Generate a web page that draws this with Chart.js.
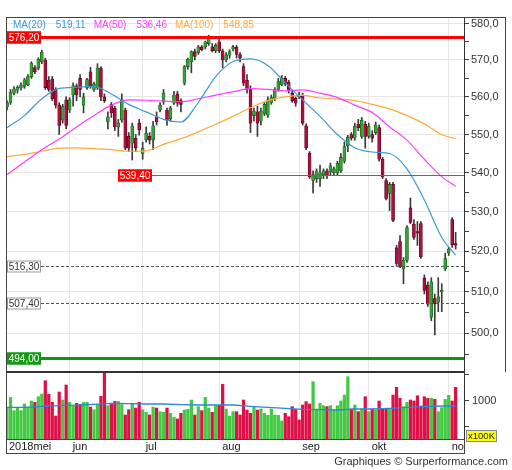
<!DOCTYPE html>
<html>
<head>
<meta charset="utf-8">
<script src="https://cdn.jsdelivr.net/npm/chart.js@4.4.1/dist/chart.umd.min.js"></script>
<style>
  html, body { margin: 0; padding: 0; background: #fff; }
  canvas { display: block; }
</style>
</head>
<body>
<canvas id="koers" width="512" height="470"></canvas>
<script>
// dagkoersen (mei - begin nov 2018), een waarde per handelsdag
const opens = [557.3,558.5,561,561.8,562.4,562.8,563.3,565.4,567.9,567.8,569.5,570,564.5,564.8,562,557.8,553.8,559.2,556.5,560.5,
  563,565,557.8,562.5,566.8,562,562.4,567.8,560,553.3,558,557,552,553.8,556.5,549.5,547.7,549,553,545,
  548.6,549.5,548.6,554.7,556.5,558.7,556.5,554.2,558.3,560.8,559,563.7,568.2,569.5,572.3,572,573.6,573.6,574.5,573.6,
  572.5,575,572.5,570,571.3,573,573.5,571.5,568.2,564.5,562,555,556,553.5,555.5,555.1,558.5,559.5,562,563.2,
  565,564,561,559.6,560.5,560.5,552.3,545.1,538,538.5,538.5,539.5,540.5,540.2,540,540,540.5,543,547,550,
  549,552.7,549.5,552.7,549.5,550,550.5,551.8,543.5,538,534.7,537,520.9,522.5,515.7,517.8,531,526.9,525,527,
  513.4,511.7,503.9,508.4,507.5,510,515.7,519.6,528,522];
const highs = [559,562,562.8,563,563.8,565,566,569.5,568.5,570.6,572.7,570.5,565.5,565.5,562.5,558.5,558,560,559.8,563.8,
  563.5,566,561,565,568,564,569,568.2,560.8,556,558.5,557.5,554,560.8,557,550.5,553,550,554,548,
  552,550.5,553.5,556,558.5,562,557,557.5,561.5,561.5,559.5,568.5,570.5,572.5,573,574,574,575.2,576.8,574.5,
  574.5,575.7,573,572,572.8,574,574,572,569,566,563,557,557.5,557,558.5,560,560.5,562.5,565,565.8,
  565.5,564.5,561.5,560,561.2,561,552.8,545.5,540.5,541,542,541,541,542.5,541.5,543,545,548,549.8,550.5,
  553,554,554.5,553.5,553,551,553.3,552.5,544,538.5,537.5,537.5,521.5,524,518.5,526.5,533.5,528,527.5,527.5,
  514.2,512.5,513.5,509.5,513.5,512,519.6,521,528.5,524.8];
const lows = [556.5,558,560.5,561,561.8,562.3,563,565,566.3,567.3,569,562,561.5,559,557,550,553,551.5,555.8,557.5,
  559,560,555.7,562,562.3,561.5,562,559,558.5,551.5,554.5,551,549.5,553.2,546,545.5,543.3,545.5,549.8,543.5,
  548,547.5,546,552.5,556,558,552.4,553.5,558,557.5,556,563.2,567.5,566.5,570,571.5,572.5,573,574,572.2,
  572,572,567.8,569.5,570.5,572.5,570.5,569.5,563,561,550.5,553.5,549.5,552.5,555,554.5,558,559,561.5,563,
  563,561,558.5,557.5,559.5,552.5,546,538.5,534.8,537.5,536.5,538.5,538.5,539.5,539.5,539.5,540,542.5,545.5,548.5,
  548.5,551,549,546.4,549,548,550,543,538.5,533,530.3,527.5,516.5,516,512,517.3,527,523,521.5,518.3,
  509.5,506.5,503,499.6,505.2,505.2,515.2,519,521,520.6];
const closes = [558.5,561.3,562.2,562.6,563.2,564.6,565.5,569.1,566.8,570.2,572.1,562.5,562,559.5,557.8,552.4,557.4,552.4,559.2,563,
  560.5,562,560,564.7,562.8,563.5,567.8,560,559,554.7,555.7,552,553,559.2,546.4,546.4,552.3,546.5,551.2,546.4,
  550.4,548.5,552.3,553.3,557.8,561,553.8,557,560.5,558.3,558,568.2,570.2,572.3,571,573.6,572.8,575,576.1,572.5,
  574,572.5,570,571.4,572.3,573.6,571.5,570.5,563.7,562,553,556.2,553,556.2,558,559.2,559.8,562,564.1,565,
  563.5,561.8,559,558.3,560,553,546.5,538.9,539.5,540.5,540,540.5,539.2,541.8,541,542.5,544,546.8,549.3,549,
  552.2,551.8,553.8,549.5,552.2,549,552.5,543.5,538.9,533.4,537,527.8,517,516.2,517.8,526,527.3,523.5,524.6,518.7,
  510.4,507,512.5,507.1,508.8,510.4,518.2,520.6,521.7,521.6];
// volume in eenheden van 100K
const volumes = [872,1064,808,872,808,936,872,994,968,1077,1128,1385,1122,968,705,1167,1013,1302,968,904,
  949,930,968,968,878,827,930,1084,1558,904,949,987,987,923,725,827,942,859,968,827,
  776,725,878,859,789,776,859,757,680,648,757,821,834,1013,725,885,808,1064,859,776,
  904,910,1314,840,705,789,789,725,1013,821,757,885,821,840,757,718,840,725,718,609,
  757,692,885,834,629,917,981,936,1366,840,949,904,885,904,821,904,994,1109,1462,840,
  917,789,840,1077,789,840,821,994,840,840,853,1109,1257,1045,885,968,1013,994,1096,898,
  1077,1045,1045,1026,789,866,1026,1103,994,1257];

const maDays = [0,5,10,15,20,25,30,35,40,45,50,55,60,65,70,75,80,85,90,95,100,105,110,115,120,125,129];
const ma20 = [551.8,555,559.5,562.3,562.6,562.8,560.8,558,556,554,553.3,558.5,565.5,569.6,570.3,568.5,563.8,559.2,554.8,550,546.5,545.4,545,541,533,523.5,519.11];
const ma50 = [539.5,542.8,546,548.8,552,555,557.8,559.2,559.1,558.9,558.7,559.5,560.5,561.4,562.2,562,561.6,561.9,561,559.8,557.8,555.8,552,548.5,543.5,539,536.46];
const ma100 = [544.2,544.8,545.6,546.4,546.5,546.3,546,545.6,545.7,547.4,548.9,550.7,552.7,554.8,557.1,559,560,560.4,559.7,559.4,559,558,556.8,555,552.8,550,548.85];
const volMa = [872,872,890,904,915,930,949,945,936,936,925,917,917,917,890,872,853,834,830,821,840,840,853,872,885,898,898];

const monthStarts = [-0.3, 18, 39, 61, 84, 104, 127];
const monthNames = ['2018mei', 'jun', 'jul', 'aug', 'sep', 'okt', 'no'];
const priceTicks = [495,500,505,510,515,520,525,530,535,540,545,550,555,560,565,570,575,580];
const volTicks = [500, 1000, 1500];
const levels = [576.2, 539.4, 516.3, 507.4, 494.0];

const GREEN = '#32a532', RED = '#b0103c';
const VGREEN = '#44c944', VRED = '#de1048';
const fmt = (v, d) => v.toFixed(d).replace('.', ',');

const days = closes.map((c, i) => i);
const up = days.map(i => closes[i] >= opens[i]);

Chart.defaults.font.family = '"Liberation Sans", Arial, sans-serif';

const levelStyle = [
  { line: '#ff0000', width: 3, dash: [], bg: '#ff0000', fg: '#fff', edge: '#ff0000', labelAt: 0, lineFrom: 0 },
  { line: '#ff2a2a', width: 1.2, dash: [], bg: '#ff0000', fg: '#fff', edge: '#ff0000', labelAt: 111, lineFrom: 146 },
  { line: '#555', width: 1, dash: [3, 2], bg: '#fff', fg: '#333', edge: '#999', labelAt: 0, lineFrom: 35 },
  { line: '#555', width: 1, dash: [3, 2], bg: '#fff', fg: '#333', edge: '#999', labelAt: 0, lineFrom: 35 },
  { line: '#129612', width: 3, dash: [], bg: '#139913', fg: '#fff', edge: '#139913', labelAt: 0, lineFrom: 0 }
];

const levelPlugin = {
  id: 'levels',
  afterDatasetsDraw(chart) {
    const { ctx, chartArea: a, scales: { y } } = chart;
    ctx.save();
    levels.forEach((v, k) => {
      const s = levelStyle[k];
      const py = Math.round(y.getPixelForValue(v)) + 0.5;
      ctx.strokeStyle = s.line;
      ctx.lineWidth = s.width;
      ctx.setLineDash(s.dash);
      ctx.beginPath();
      ctx.moveTo(a.left + s.lineFrom, py);
      ctx.lineTo(a.right, py);
      ctx.stroke();
      ctx.setLineDash([]);
      const bx = a.left + 1 + s.labelAt, bw = 34, bh = 12;
      ctx.fillStyle = s.bg;
      ctx.fillRect(bx, py - 6, bw, bh);
      ctx.strokeStyle = s.edge;
      ctx.lineWidth = 1;
      ctx.strokeRect(bx + 0.5, py - 5.5, bw - 1, bh - 1);
      ctx.fillStyle = s.fg;
      ctx.font = '10px "Liberation Sans", Arial, sans-serif';
      ctx.textAlign = 'center';
      ctx.textBaseline = 'middle';
      ctx.fillText(fmt(v, 2), bx + bw / 2, py + 0.5);
    });
    ctx.restore();
  }
};

const framePlugin = {
  id: 'frame',
  afterDraw(chart) {
    const { ctx, chartArea: a, scales: { x, y, yv } } = chart;
    ctx.save();
    ctx.strokeStyle = '#444';
    ctx.lineWidth = 1;
    ctx.beginPath();
    ctx.moveTo(a.left, a.top + 0.5); ctx.lineTo(506, a.top + 0.5);
    ctx.moveTo(505.5, a.top); ctx.lineTo(505.5, y.bottom);
    ctx.moveTo(a.left + 0.5, a.top); ctx.lineTo(a.left + 0.5, a.bottom + 14);
    ctx.moveTo(a.left, a.bottom + 0.5); ctx.lineTo(a.right, a.bottom + 0.5);
    ctx.moveTo(a.left, a.bottom + 14.5); ctx.lineTo(a.right, a.bottom + 14.5);
    ctx.moveTo(a.right + 0.5, a.bottom); ctx.lineTo(a.right + 0.5, a.bottom + 15);
    ctx.stroke();
    ctx.lineWidth = 2;
    ctx.strokeStyle = '#333';
    ctx.beginPath();
    ctx.moveTo(a.left, y.bottom); ctx.lineTo(a.right, y.bottom);
    ctx.stroke();

    // maandnamen rechts van de maandlijn
    ctx.fillStyle = '#222';
    ctx.font = '11px "Liberation Sans", Arial, sans-serif';
    ctx.textAlign = 'left';
    ctx.textBaseline = 'top';
    monthStarts.forEach((m, k) => {
      ctx.fillText(monthNames[k], x.getPixelForValue(m) + 3, a.bottom + 2);
    });

    // legende MA
    const legend = [
      ['MA(20)', '#3a9ad9'], [fmt(ma20[ma20.length - 1], 2), '#3a9ad9'],
      ['MA(50)', '#ff3cff'], [fmt(ma50[ma50.length - 1], 2), '#ff3cff'],
      ['MA(100)', '#ffaa3c'], [fmt(ma100[ma100.length - 1], 2), '#ffaa3c']
    ];
    ctx.font = '10px "Liberation Sans", Arial, sans-serif';
    ctx.textBaseline = 'middle';
    let lx = a.left + 7;
    legend.forEach(([t, c], k) => {
      ctx.fillStyle = c;
      ctx.fillText(t, lx, a.top + 8);
      lx += ctx.measureText(t).width + (k % 2 === 0 ? 10 : 8);
    });

    // eenheid volume
    ctx.fillStyle = '#ffff00';
    ctx.fillRect(yv.left + 2, yv.bottom - 9, 31, 12);
    ctx.strokeStyle = '#888';
    ctx.lineWidth = 1;
    ctx.strokeRect(yv.left + 2.5, yv.bottom - 8.5, 30, 11);
    ctx.fillStyle = '#222';
    ctx.font = '9.5px "Liberation Sans", Arial, sans-serif';
    ctx.textAlign = 'center';
    ctx.fillText('x100K', yv.left + 17.5, yv.bottom - 2.5);

    ctx.fillStyle = '#333';
    ctx.font = '11px "Liberation Sans", Arial, sans-serif';
    ctx.textAlign = 'right';
    ctx.fillText('Graphiques \u00a9 Surperformance.com', 508, 462);
    ctx.restore();
  }
};

new Chart(document.getElementById('koers'), {
  type: 'bar',
  data: {
    datasets: [
      { type: 'line', yAxisID: 'y', data: maDays.map((d, k) => ({ x: d, y: ma20[k] })),
        borderColor: '#3a9ad9', borderWidth: 1.2, pointRadius: 0, cubicInterpolationMode: 'monotone' },
      { type: 'line', yAxisID: 'y', data: maDays.map((d, k) => ({ x: d, y: ma50[k] })),
        borderColor: '#ff3cff', borderWidth: 1.2, pointRadius: 0, cubicInterpolationMode: 'monotone' },
      { type: 'line', yAxisID: 'y', data: maDays.map((d, k) => ({ x: d, y: ma100[k] })),
        borderColor: '#ffaa3c', borderWidth: 1.2, pointRadius: 0, cubicInterpolationMode: 'monotone' },
      { type: 'line', yAxisID: 'yv', data: maDays.map((d, k) => ({ x: d, y: volMa[k] })),
        borderColor: '#2a88d8', borderWidth: 1.3, pointRadius: 0 },
      // bodies
      { yAxisID: 'y', grouped: false, barThickness: 3,
        data: days.map(i => ({ x: i, y: [opens[i], closes[i]] })),
        backgroundColor: days.map(i => up[i] ? GREEN : RED),
        borderColor: days.map(i => up[i] ? '#1b4d1b' : '#4a0018'),
        borderWidth: 0.6, borderSkipped: false },
      // lonten
      { yAxisID: 'y', grouped: false, barThickness: 1,
        data: days.map(i => ({ x: i, y: [lows[i], highs[i]] })),
        backgroundColor: '#3a3a3a' },
      // volume
      { yAxisID: 'yv', grouped: false, barThickness: 2.6,
        data: days.map(i => ({ x: i, y: volumes[i] })),
        backgroundColor: days.map(i => up[i] ? VGREEN : VRED) }
    ]
  },
  options: {
    responsive: false,
    animation: false,
    devicePixelRatio: 1,
    layout: { padding: { left: 6, top: 17, right: 0, bottom: 17 } },
    plugins: { legend: { display: false }, tooltip: { enabled: false } },
    scales: {
      x: {
        type: 'linear', position: 'bottom', min: -0.3, max: 131.4, offset: false,
        afterBuildTicks: s => { s.ticks = monthStarts.map(v => ({ value: v })); },
        afterFit: s => { s.height = 14; },
        ticks: { display: false },
        grid: { color: '#e6e6e6', drawTicks: false, offset: false },
        border: { display: false }
      },
      y: {
        type: 'logarithmic', position: 'right', stack: 'panes', stackWeight: 355,
        min: 490.8, max: 581.87,
        afterBuildTicks: s => { s.ticks = priceTicks.map(v => ({ value: v })); },
        afterFit: s => { s.width = 48; },
        ticks: {
          autoSkip: false, padding: 2, color: '#333', font: { size: 11 },
          callback: v => (v % 10 === 0 ? fmt(v, 1) : '')
        },
        grid: {
          color: c => (c.tick && c.tick.value % 10 === 0 ? '#e6e6e6' : 'rgba(0,0,0,0)'),
          tickColor: '#444', tickLength: 5
        },
        border: { color: '#333', width: 1 }
      },
      yv: {
        type: 'linear', position: 'right', stack: 'panes', stackWeight: 67,
        min: 263, max: 1552,
        afterBuildTicks: s => { s.ticks = volTicks.map(v => ({ value: v })); },
        afterFit: s => { s.width = 48; },
        ticks: {
          autoSkip: false, padding: 3, color: '#333', font: { size: 11 },
          callback: v => (v === 1000 ? '1000' : '')
        },
        grid: { drawOnChartArea: false, tickColor: '#444', tickLength: 5 },
        border: { color: '#333', width: 1 }
      }
    }
  },
  plugins: [levelPlugin, framePlugin]
});
</script>
</body>
</html>
